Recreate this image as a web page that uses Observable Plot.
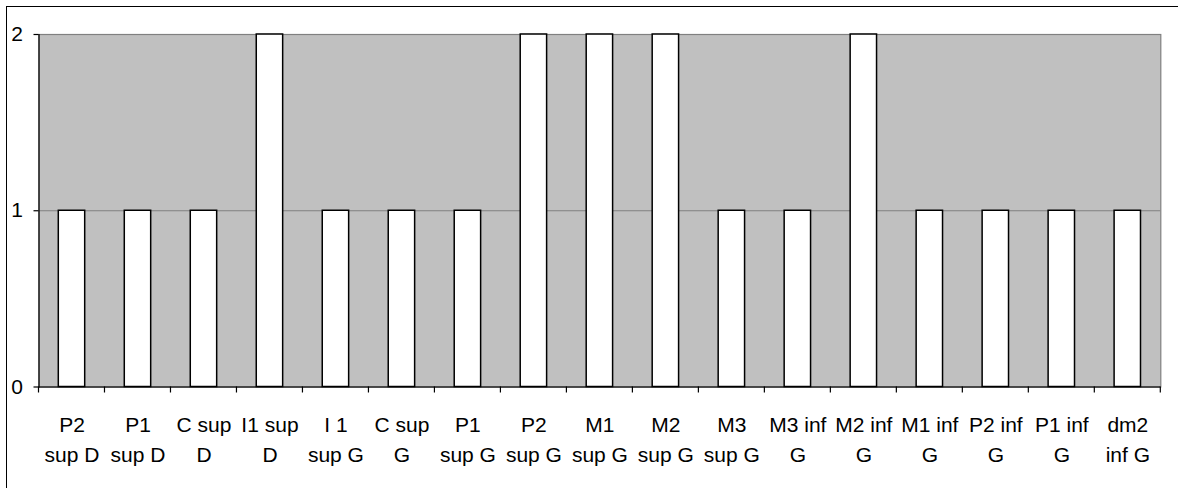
<!DOCTYPE html>
<html>
<head>
<meta charset="utf-8">
<script src="https://cdn.jsdelivr.net/npm/d3@7"></script>
<script src="https://cdn.jsdelivr.net/npm/@observablehq/plot@0.6"></script>
<style>
  html, body { margin: 0; padding: 0; background: #fff; overflow: hidden; }
  #wrap { position: relative; width: 1178px; height: 488px; }
  #border { position: absolute; left: 6px; top: 6px; width: 1300px; height: 600px;
            border-top: 1.5px solid #000; border-left: 1.5px solid #000; box-sizing: border-box; }
  #chart { position: absolute; left: 0; top: 0; }
</style>
</head>
<body>
<div id="wrap"><div id="border"></div><div id="chart"></div></div>
<script>
const categories = ["P2 sup D", "P1 sup D", "C sup D", "I1 sup D", "I 1 sup G", "C sup G", "P1 sup G",
  "P2 sup G", "M1 sup G", "M2 sup G", "M3 sup G", "M3 inf G", "M2 inf G", "M1 inf G",
  "P2 inf G", "P1 inf G", "dm2 inf G"];
const values = [1, 1, 1, 2, 1, 1, 1, 2, 2, 2, 1, 1, 2, 1, 1, 1, 1];
const tickLabels = ["P2\nsup D", "P1\nsup D", "C sup\nD", "I1 sup\nD", "I 1\nsup G", "C sup\nG", "P1\nsup G",
  "P2\nsup G", "M1\nsup G", "M2\nsup G", "M3\nsup G", "M3 inf\nG", "M2 inf\nG", "M1 inf\nG",
  "P2 inf\nG", "P1 inf\nG", "dm2\ninf G"];
const yTicks = [0, 1, 2];

const data = categories.map((c, i) => ({category: c, value: values[i]}));
const labelOf = new Map(categories.map((c, i) => [c, tickLabels[i]]));

const plot = Plot.plot({
  width: 1178,
  height: 488,
  marginLeft: 38.5,
  marginRight: 17.7,
  marginTop: 34,
  marginBottom: 101.5,
  style: {fontFamily: "'Liberation Sans', Arial, sans-serif", fontSize: "21px", background: "transparent", color: "#000", overflow: "visible"},
  x: {domain: categories, paddingInner: 0.6, paddingOuter: 0.3, round: false, label: null},
  y: {domain: [0, 2], label: null},
  marks: [
    Plot.frame({fill: "#c0c0c0", stroke: "#808080", strokeWidth: 1.2}),
    Plot.gridY(yTicks, {stroke: "#808080", strokeOpacity: 1, strokeWidth: 1.2}),
    Plot.barY(data, {x: "category", y: "value", fill: "#fff", stroke: "#000", strokeWidth: 1.5}),
    Plot.axisY(yTicks, {tickSize: 5, tickPadding: 11, tickFormat: d => String(d), fontSize: 21, stroke: "#000", strokeWidth: 1.2}),
    Plot.axisX({tickSize: 0, tickPadding: 24, tickFormat: d => labelOf.get(d), fontSize: 21, lineHeight: 1.43}),
    Plot.ruleY([0], {stroke: "#000", strokeWidth: 1.2}),
    Plot.frame({anchor: "left", stroke: "#000", strokeWidth: 1.2})
  ]
});

// category boundary tick marks below the x axis, derived from the band scale
const xs = plot.scale("x");
const ys = plot.scale("y");
const half = (xs.step - xs.bandwidth) / 2;
const bounds = categories.map(c => xs.apply(c) - half);
bounds.push(xs.apply(categories[categories.length - 1]) + xs.bandwidth + half);
const y0 = ys.apply(0);
d3.select(plot).append("g")
  .attr("stroke", "#000").attr("stroke-width", 1.2)
  .selectAll("line").data(bounds).join("line")
  .attr("x1", d => d).attr("x2", d => d)
  .attr("y1", y0).attr("y2", y0 + 6);

document.getElementById("chart").appendChild(plot);
</script>
</body>
</html>
